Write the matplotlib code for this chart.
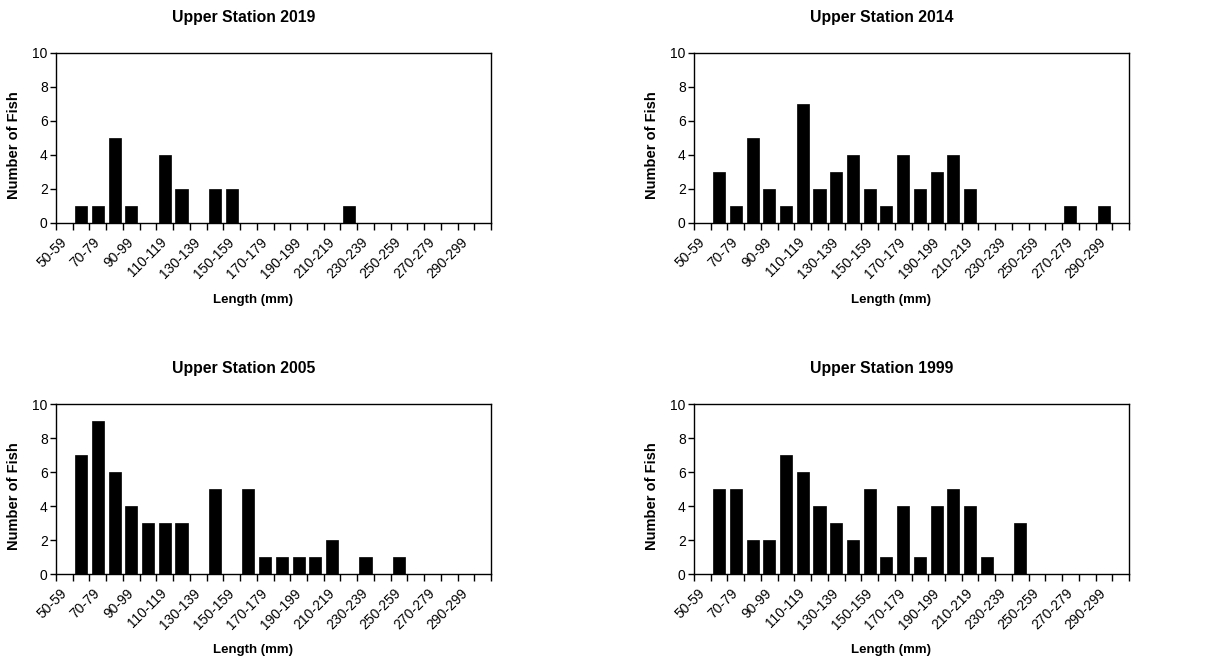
import numpy as np
import matplotlib
matplotlib.use("Agg")
from matplotlib import pyplot as plt
from matplotlib.ticker import FixedLocator

plt.rcParams['font.family'] = ['Liberation Sans', 'DejaVu Sans']

# length classes, 10 mm wide
bins = [f"{lo}-{lo + 9}" for lo in range(50, 310, 10)]

# number of fish per length class
fish_2019 = [0, 1, 1, 5, 1, 0, 4, 2, 0, 2, 2, 0, 0, 0, 0, 0, 0, 1, 0, 0, 0, 0, 0, 0, 0, 0]
fish_2014 = [0, 3, 1, 5, 2, 1, 7, 2, 3, 4, 2, 1, 4, 2, 3, 4, 2, 0, 0, 0, 0, 0, 1, 0, 1, 0]
fish_2005 = [0, 7, 9, 6, 4, 3, 3, 3, 0, 5, 0, 5, 1, 1, 1, 1, 2, 0, 1, 0, 1, 0, 0, 0, 0, 0]
fish_1999 = [0, 5, 5, 2, 2, 7, 6, 4, 3, 2, 5, 1, 4, 1, 4, 5, 4, 1, 0, 3, 0, 0, 0, 0, 0, 0]

panels = [
    ("Upper Station 2019", fish_2019, (56, 53)),
    ("Upper Station 2014", fish_2014, (694, 53)),
    ("Upper Station 2005", fish_2005, (56, 404)),
    ("Upper Station 1999", fish_1999, (694, 404)),
]

W, H = 1206, 661
fig = plt.figure(figsize=(W / 100, H / 100), dpi=100)

ax_w, ax_h = 435, 170
for title, counts, (px, py) in panels:
    ax = fig.add_axes([px / W, 1 - (py + ax_h) / H, ax_w / W, ax_h / H])
    x = np.arange(len(bins))
    ax.bar(x, counts, width=0.72, color='black', edgecolor='black', linewidth=0.5, zorder=3)
    ax.set_xlim(-0.5, len(bins) - 0.5)
    ax.set_ylim(0, 10)
    ax.set_yticks(range(0, 11, 2))

    # labels on every other class, tick marks on class boundaries
    ax.xaxis.set_major_locator(FixedLocator(x[::2]))
    ax.set_xticklabels(bins[::2], rotation=45, ha='right', va='center',
                       rotation_mode='anchor', fontsize=10)
    ax.xaxis.set_minor_locator(FixedLocator(np.arange(len(bins) + 1) - 0.5))
    ax.tick_params(axis='x', which='major', length=0, pad=12.5)
    ax.tick_params(axis='x', which='minor', length=5, width=1, direction='out')
    ax.tick_params(axis='y', length=4, width=1, direction='out', labelsize=10, pad=2)

    for s in ax.spines.values():
        s.set_linewidth(1)
        s.set_color('black')

    ax.text(0.432, 1.21, title, transform=ax.transAxes, fontsize=11.3,
            fontweight='bold', ha='center', va='center')
    ax.set_xlabel("Length (mm)", fontsize=9.5, fontweight='bold')
    ax.xaxis.label.set_va('center')
    ax.xaxis.set_label_coords(0.453, -0.45)
    ax.set_ylabel("Number of Fish", fontsize=10.5, fontweight='bold')
    ax.yaxis.label.set_va('center')
    ax.yaxis.set_label_coords(-0.097, 0.46)

fig.savefig("out.png", dpi=100)
